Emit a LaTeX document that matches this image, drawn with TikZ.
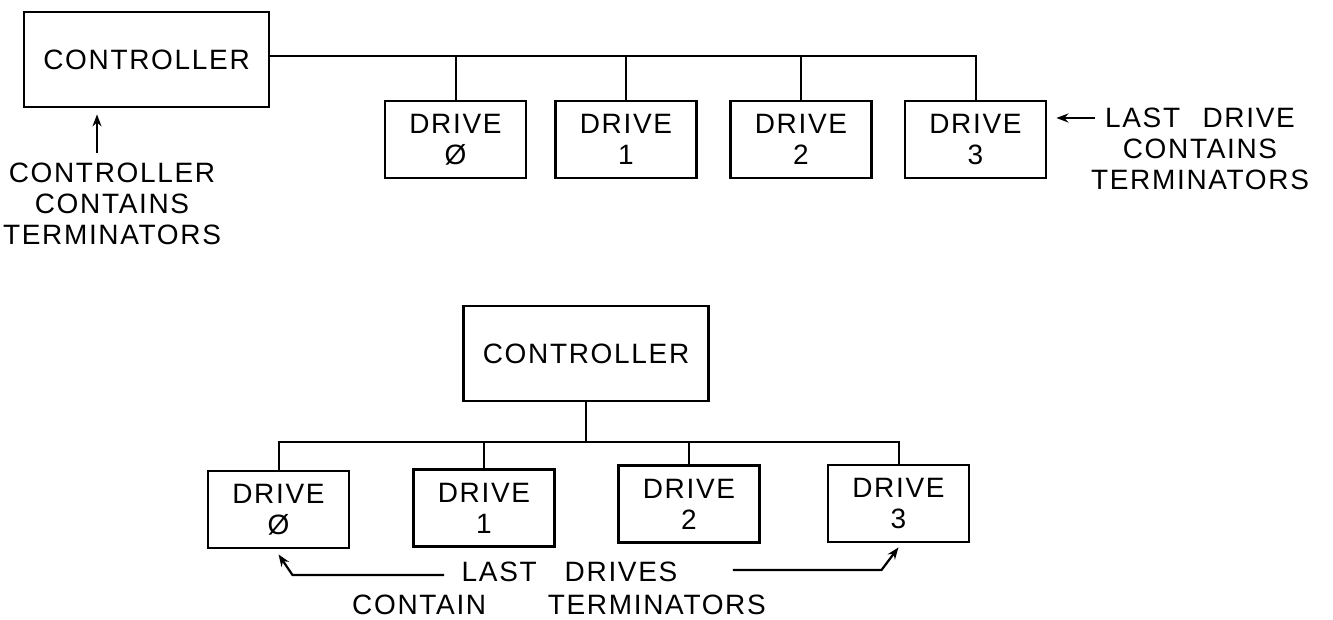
\documentclass[tikz,border=0pt]{standalone}
\usepackage{fontspec}
\newfontfamily\handfont[LetterSpace=6]{Liberation Sans}
\usepackage{tikz}
\usetikzlibrary{arrows.meta,positioning,calc}
\tikzset{
  every picture/.append style={font=\handfont\fontsize{14}{15.5}\selectfont},
  ctrl/.style = {draw, line width=1.4pt, minimum width=122.5pt,
                 minimum height=47.5pt, inner sep=0pt},
  drv/.style  = {draw, line width=1.4pt, minimum width=70.5pt,
                 minimum height=38.5pt, inner sep=0pt, align=center},
  bus/.style  = {draw, line width=1pt},
  arr/.style  = {-{Stealth[length=6pt,width=4.5pt]}, line width=1.1pt},
  lab/.style  = {inner sep=1pt, align=center},
}

\begin{document}
\begin{tikzpicture}[x=0.5pt,y=-0.5pt]
  \useasboundingbox (0,0) rectangle (1333,620);
  % terminators in controller and last drive
  \node[ctrl] (ctrlA) at (146.5,59.5) {CONTROLLER};
  \node[drv] (drvA0) at (455.5,139.5) {DRIVE\\Ø};
  \node[drv] (drvA1) at (626,139.5) {DRIVE\\1};
  \node[drv] (drvA2) at (801,139.5) {DRIVE\\2};
  \node[drv] (drvA3) at (975.5,139.5) {DRIVE\\3};
  \coordinate (busA) at ([yshift=1.75pt]ctrlA.east);
  \draw[bus] (busA) -| (drvA3.north);
  \foreach \i in {0,1,2}
    \draw[bus] (drvA\i.north) -- (drvA\i.north |- busA);

  \node[lab] (noteC) at (112,204) {CONTROLLER\\CONTAINS\\TERMINATORS};
  \coordinate (tailC) at ($(noteC.north)+(-15,-8)$);
  \draw[arr] (tailC) -- ($(tailC |- ctrlA.south)+(0,6)$);

  \node[lab] (lastA) at (1200,118) {LAST\hspace{0.8em}DRIVE};
  \node[lab] (contA) at (1200,164.5) {CONTAINS\\TERMINATORS};
  \draw[arr] ($(lastA.west)+(-8,0)$) -- ($(lastA.west -| drvA3.east)+(9,0)$);

  % terminators in the two end drives
  \node[ctrl] (ctrlB) at (586,353.5) {CONTROLLER};
  \node[drv] (drvB0) at (278.5,509.5) {DRIVE\\Ø};
  \node[drv] (drvB1) at (484,508) {DRIVE\\1};
  \node[drv] (drvB2) at (689,504) {DRIVE\\2};
  \node[drv] (drvB3) at (898.5,503.5) {DRIVE\\3};
  \coordinate (busB) at ($(ctrlB.south)+(0,40)$);
  \draw[bus] (ctrlB.south) -- (busB);
  \draw[bus] (drvB0.north) |- (busB) -| (drvB3.north);
  \foreach \i in {1,2}
    \draw[bus] (drvB\i.north) -- (drvB\i.north |- busB);

  \node[lab] (lastB) at (569.5,572) {LAST\hspace{1em}DRIVES};
  \node[lab] (contB) at (559,605) {CONTAIN\hspace{2.2em}TERMINATORS};
  \draw[arr] ($(lastB.west)+(-15,3)$) -- ($(lastB.west -| drvB0.south)+(14,3)$)
    -- ($(drvB0.south)+(0,5)$);
  \draw[arr] ($(lastB.east)+(53,-2)$) -- ($(lastB.east -| drvB3.south)+(-17,-2)$)
    -- ($(drvB3.south)+(0,4)$);
\end{tikzpicture}
\end{document}
